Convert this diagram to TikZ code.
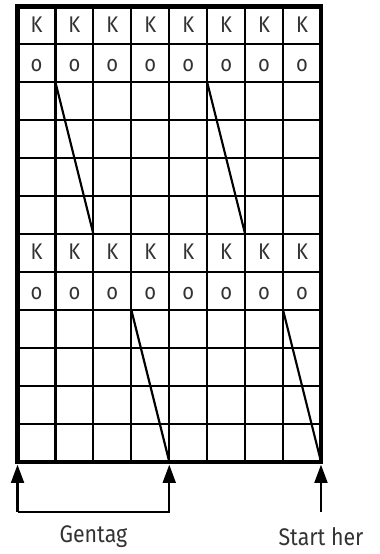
\documentclass[tikz,border=0pt]{standalone}
\usepackage{fontspec}
\setmainfont{Fira Sans}[FakeStretch=0.89]
\usetikzlibrary{arrows.meta}
\begin{document}
\begin{tikzpicture}[x=1cm,y=1cm,
		cell/.style={anchor=base,inner sep=0pt,text=black!80,font=\fontsize{17}{20}\selectfont},
		caption/.style={text=black!80,font=\fontsize{18}{21}\selectfont},
		chain/.style={line width=1.6pt},
		pointer/.style={line width=1.6pt,-{Triangle[length=0.48cm,width=0.34cm]}}]
	\useasboundingbox (-0.462,-2.435) rectangle (9.538,12.17);
	\draw[line width=1.6pt] (0,0) grid (8,12);
	\draw[line width=3.2pt] (0,0) rectangle (8,12);
	\foreach \c in {0,...,7} {
		\node[cell] (ktop\c) at (\c+0.5,11.32) {K};
		\node[cell] (otop\c) at (\c+0.5,10.28) {o};
		\node[cell] (klow\c) at (\c+0.5,5.32) {K};
		\node[cell] (olow\c) at (\c+0.5,4.28) {o};
	}
	% strikes
	\coordinate (a1) at (1,10); \coordinate (a2) at (2,6);
	\coordinate (b1) at (5,10); \coordinate (b2) at (6,6);
	\coordinate (c1) at (3,4);  \coordinate (c2) at (4,0);
	\coordinate (d1) at (7,4);  \coordinate (d2) at (8,0);
	\draw[chain] (a1) -- (a2);
	\draw[chain] (b1) -- (b2);
	\draw[chain] (c1) -- (c2);
	\draw[chain] (d1) -- (d2);
	% arrows below
	\coordinate (s0) at (0,-0.08);
	\coordinate (s4) at (4,-0.08);
	\coordinate (s8) at (8,-0.08);
	\coordinate (f0) at (0,-1.33);
	\coordinate (f4) at (4,-1.33);
	\coordinate (f8) at (8,-1.33);
	\draw[pointer] (f0) -- (s0);
	\draw[pointer] (f0) -- (f4) -- (s4);
	\draw[pointer] (f8) -- (s8);
	\node[caption] (gentag) at (2,-1.99) {Gentag};
	\node[caption] (starther) at (8,-1.99) {Start her};
\end{tikzpicture}
\end{document}
